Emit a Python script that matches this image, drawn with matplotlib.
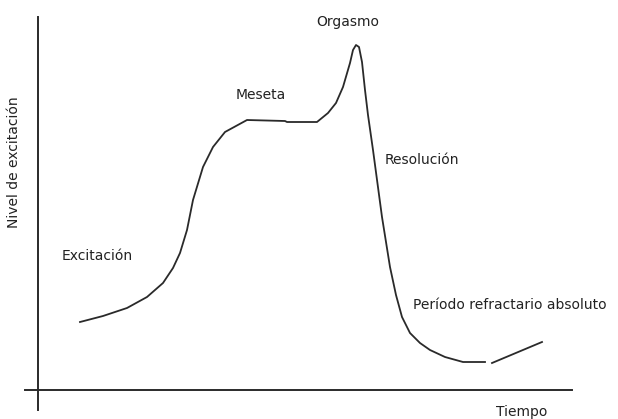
import matplotlib.pyplot as plt

# curve (time, arousal level)
tiempo = [42, 65, 89, 109, 125, 135, 142, 149, 155, 165, 175, 187, 209, 247,
          249, 279, 290, 298, 305, 312, 315, 318, 321, 324, 327, 330, 335,
          344, 352, 358, 364, 372, 382, 392, 407, 425, 447]
nivel = [68, 74, 82, 93, 107, 122, 137, 160, 190, 223, 243, 258, 270, 269,
         268, 268, 277, 287, 303, 327, 340, 345, 343, 328, 300, 275, 240,
         173, 123, 95, 73, 57, 47, 40, 33, 28, 28]
# second piece after the small gap
tiempo2 = [454, 504]
nivel2 = [27, 48]

fases = ['Excitación', 'Meseta', 'Orgasmo', 'Resolución',
         'Período refractario absoluto']
fase_x = [24, 223, 310, 347, 375]
fase_y = [134, 295, 368, 230, 85]
fase_ha = ['left', 'center', 'center', 'left', 'left']

fig = plt.figure(figsize=(6.18, 4.19), dpi=100)
ax = fig.add_axes([0, 0, 1, 1])
ax.set_xlim(-38, 580)
ax.set_ylim(-29, 390)
ax.axis('off')

col = '#2a2a2a'
ax.plot([-13, 534], [0, 0], color=col, lw=1.4)
ax.plot([0, 0], [-20, 373], color=col, lw=1.4)

ax.plot(tiempo, nivel, color=col, lw=1.3, solid_joinstyle='round')
ax.plot(tiempo2, nivel2, color=col, lw=1.3)

for t, x, y, ha in zip(fases, fase_x, fase_y, fase_ha):
    ax.text(x, y, t, ha=ha, va='center', fontsize=10, color='#222')

ax.text(484, -22, 'Tiempo', ha='center', va='center', fontsize=10, color='#222')
ax.text(-24, 228, 'Nivel de excitación', rotation=90, ha='center', va='center',
        fontsize=10, color='#222')

fig.savefig('out.png', dpi=100)
